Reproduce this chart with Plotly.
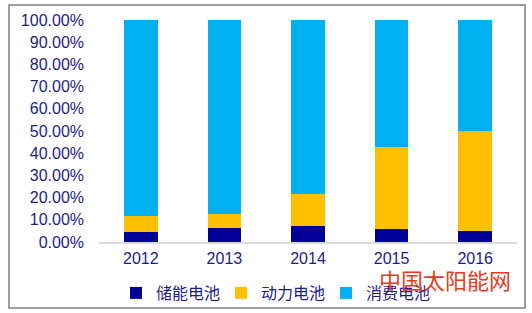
import plotly.graph_objects as go

years = ["2012", "2013", "2014", "2015", "2016"]
storage = [0.045, 0.064, 0.070, 0.058, 0.050]
power = [0.070, 0.062, 0.148, 0.370, 0.450]
consumer = [0.885, 0.874, 0.782, 0.572, 0.500]
series_names = ["储能电池", "动力电池", "消费电池"]
series_colors = ["#000099", "#FFC000", "#00B0F0"]
watermark = "中国太阳能网"

W, H = 532, 313
L, R, T, B = 99, 15, 20, 71
pw, ph = W - L - R, H - T - B

def px2x(p):
    return (p - L) / pw

def px2y(p):
    return (H - B - p) / ph

fig = go.Figure()
for name, vals, col in zip(series_names, [storage, power, consumer], series_colors):
    fig.add_trace(go.Bar(x=years, y=vals, name=name, marker=dict(color=col, line=dict(width=0))))

navy = "#1c1c8c"
fig.update_layout(
    width=W, height=H,
    margin=dict(l=L, r=R, t=T, b=B, autoexpand=False),
    barmode="stack", bargap=0.6,
    plot_bgcolor="white", paper_bgcolor="white",
    font=dict(family="Liberation Sans, Arial, sans-serif", color=navy, size=16),
    xaxis=dict(showline=True, linecolor="#d9d9d9", linewidth=2, showgrid=False,
               ticks="", tickfont=dict(size=16, color=navy), ticklabelstandoff=1),
    yaxis=dict(range=[0, 1], dtick=0.1, tickformat=".2%", showgrid=False, zeroline=False,
               showline=False, ticks="", tickfont=dict(size=16, color=navy), ticklabelstandoff=14),
    legend=dict(orientation="h", x=px2x(116), xanchor="left", y=px2y(293), yanchor="middle",
                traceorder="normal", entrywidth=60, entrywidthmode="pixels",
                font=dict(family="Noto Sans CJK SC", size=16, color=navy),
                bgcolor="rgba(0,0,0,0)"),
    showlegend=True,
)
fig.add_shape(type="rect", xref="paper", yref="paper",
              x0=px2x(9), x1=px2x(525), y0=px2y(308), y1=px2y(5),
              line=dict(color="#808080", width=1.5), fillcolor="rgba(0,0,0,0)", layer="below")
fig.add_annotation(text=watermark, xref="paper", yref="paper", x=px2x(513), y=px2y(279),
                   xanchor="right", yanchor="middle", showarrow=False,
                   font=dict(family="Noto Sans CJK SC", size=22, color="#e63a1e"))
fig.write_html("out.html")
